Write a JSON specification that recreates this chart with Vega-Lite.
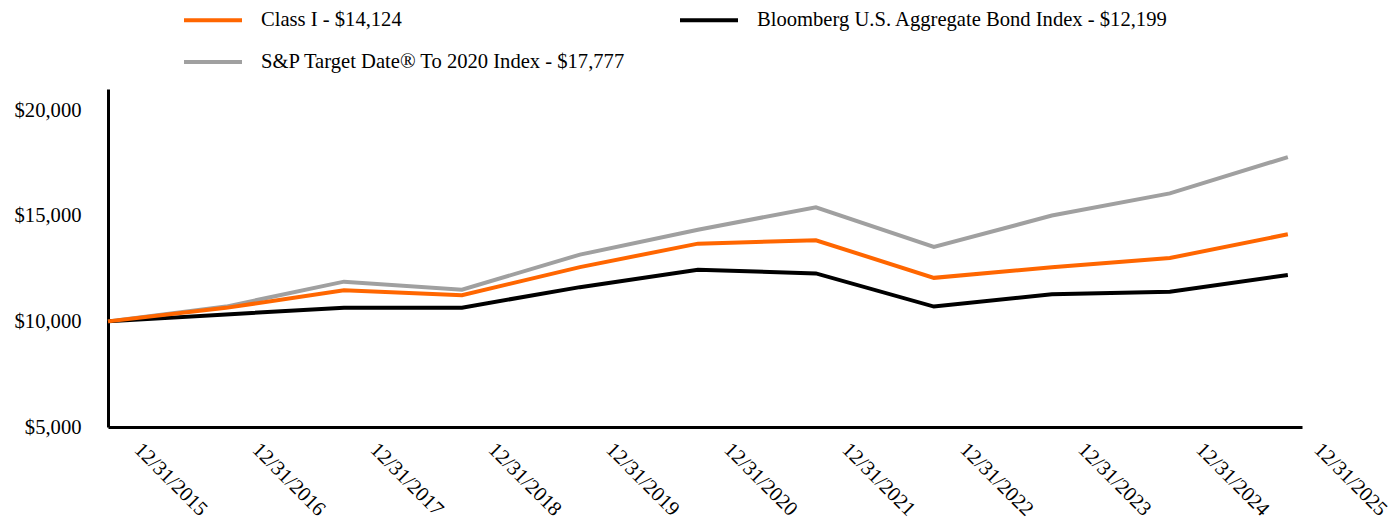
{
  "$schema": "https://vega.github.io/schema/vega-lite/v6.json",
  "width": 1194,
  "height": 338,
  "autosize": {"type": "none"},
  "padding": {"left": 108, "top": 89, "right": 88, "bottom": 94},
  "background": "white",
  "config": {
    "view": {"stroke": null},
    "font": "Liberation Serif",
    "axis": {"labelFont": "Liberation Serif", "labelFontSize": 20.6, "labelColor": "#000000", "grid": false, "ticks": false, "domainColor": "#000000", "domainWidth": 3, "title": null},
    "legend": {"labelFont": "Liberation Serif", "labelFontSize": 20.6, "labelColor": "#000000"}
  },
  "data": {
    "values": [
      {"year": 2015, "series": "S&P Target Date® To 2020 Index - $17,777", "value": 10000},
      {"year": 2016, "series": "S&P Target Date® To 2020 Index - $17,777", "value": 10700},
      {"year": 2017, "series": "S&P Target Date® To 2020 Index - $17,777", "value": 11880},
      {"year": 2018, "series": "S&P Target Date® To 2020 Index - $17,777", "value": 11500},
      {"year": 2019, "series": "S&P Target Date® To 2020 Index - $17,777", "value": 13160},
      {"year": 2020, "series": "S&P Target Date® To 2020 Index - $17,777", "value": 14340},
      {"year": 2021, "series": "S&P Target Date® To 2020 Index - $17,777", "value": 15400},
      {"year": 2022, "series": "S&P Target Date® To 2020 Index - $17,777", "value": 13520},
      {"year": 2023, "series": "S&P Target Date® To 2020 Index - $17,777", "value": 15010},
      {"year": 2024, "series": "S&P Target Date® To 2020 Index - $17,777", "value": 16060},
      {"year": 2025, "series": "S&P Target Date® To 2020 Index - $17,777", "value": 17777},
      {"year": 2015, "series": "Bloomberg U.S. Aggregate Bond Index - $12,199", "value": 10000},
      {"year": 2016, "series": "Bloomberg U.S. Aggregate Bond Index - $12,199", "value": 10330},
      {"year": 2017, "series": "Bloomberg U.S. Aggregate Bond Index - $12,199", "value": 10650},
      {"year": 2018, "series": "Bloomberg U.S. Aggregate Bond Index - $12,199", "value": 10650},
      {"year": 2019, "series": "Bloomberg U.S. Aggregate Bond Index - $12,199", "value": 11620},
      {"year": 2020, "series": "Bloomberg U.S. Aggregate Bond Index - $12,199", "value": 12440},
      {"year": 2021, "series": "Bloomberg U.S. Aggregate Bond Index - $12,199", "value": 12270},
      {"year": 2022, "series": "Bloomberg U.S. Aggregate Bond Index - $12,199", "value": 10700},
      {"year": 2023, "series": "Bloomberg U.S. Aggregate Bond Index - $12,199", "value": 11280},
      {"year": 2024, "series": "Bloomberg U.S. Aggregate Bond Index - $12,199", "value": 11400},
      {"year": 2025, "series": "Bloomberg U.S. Aggregate Bond Index - $12,199", "value": 12199},
      {"year": 2015, "series": "Class I - $14,124", "value": 10000},
      {"year": 2016, "series": "Class I - $14,124", "value": 10640},
      {"year": 2017, "series": "Class I - $14,124", "value": 11470},
      {"year": 2018, "series": "Class I - $14,124", "value": 11240},
      {"year": 2019, "series": "Class I - $14,124", "value": 12570},
      {"year": 2020, "series": "Class I - $14,124", "value": 13680},
      {"year": 2021, "series": "Class I - $14,124", "value": 13840},
      {"year": 2022, "series": "Class I - $14,124", "value": 12060},
      {"year": 2023, "series": "Class I - $14,124", "value": 12560},
      {"year": 2024, "series": "Class I - $14,124", "value": 13000},
      {"year": 2025, "series": "Class I - $14,124", "value": 14124}
    ]
  },
  "mark": {"type": "line", "strokeWidth": 4, "strokeJoin": "miter"},
  "encoding": {
    "x": {
      "field": "year",
      "type": "quantitative",
      "scale": {"domain": [2015, 2025.12], "nice": false, "zero": false},
      "axis": {
        "values": [2015, 2016, 2017, 2018, 2019, 2020, 2021, 2022, 2023, 2024, 2025],
        "labelExpr": "'12/31/' + datum.value",
        "labelAngle": 45,
        "labelAlign": "left",
        "labelBaseline": "top",
        "labelPadding": 12,
        "labelOffset": 36,
        "labelOverlap": false,
        "labelBound": false,
        "labelFlush": false
      }
    },
    "y": {
      "field": "value",
      "type": "quantitative",
      "scale": {"domain": [5000, 21000], "nice": false, "zero": false},
      "axis": {
        "values": [5000, 10000, 15000, 20000],
        "format": "$,.0f",
        "labelPadding": 27,
        "labelOverlap": false,
        "labelFlush": false
      }
    },
    "color": {
      "field": "series",
      "type": "nominal",
      "scale": {
        "domain": ["Class I - $14,124", "Bloomberg U.S. Aggregate Bond Index - $12,199", "S&P Target Date® To 2020 Index - $17,777"],
        "range": ["#FF6600", "#000000", "#A0A0A0"]
      },
      "legend": {
        "orient": "none",
        "legendX": 74,
        "legendY": -100,
        "direction": "horizontal",
        "columns": 2,
        "title": null,
        "symbolType": "stroke",
        "symbolSize": 3364,
        "symbolStrokeWidth": 4,
        "labelOffset": 17,
        "rowPadding": -3,
        "columnPadding": 46,
        "labelLimit": 600
      }
    },
    "order": {"value": 0}
  }
}
